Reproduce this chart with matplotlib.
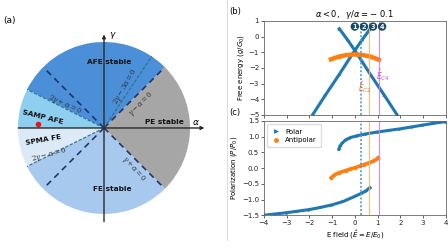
import numpy as np
import matplotlib
matplotlib.use("Agg")
import matplotlib.pyplot as plt
from matplotlib.patches import Wedge
from matplotlib.lines import Line2D

plt.rcParams['mathtext.fontset'] = 'dejavusans'
plt.rcParams['axes.unicode_minus'] = True

# ---- panel (a): phase diagram sectors (start, end angle in deg) ----
phase_names = ['PE stable', 'AFE stable', 'SAMP AFE', 'SPMA FE', 'FE stable']
phase_from = [-45.0, 45.0, 153.43, 180.0, 206.57]
phase_to = [45.0, 153.43, 180.0, 206.57, 315.0]
phase_colors = ['#a6a6a6', '#4b8fd8', '#8ecff0', '#dce9f6', '#a8c9ee']

# ---- panel (b): free energy vs field ----
Eb_rise = [-1.86, -1.3, -0.7, -0.1, 0.3, 0.68]
gb_rise = [-5.0, -3.75, -2.45, -1.1, -0.25, 0.5]
Eb_fall = [-0.68, -0.3, 0.1, 0.7, 1.3, 1.86]
gb_fall = [0.5, -0.25, -1.1, -2.45, -3.75, -5.0]
Eb_anti = [-1.05, -0.7, -0.35, 0.0, 0.35, 0.7, 1.05]
gb_anti = [-1.45, -1.28, -1.18, -1.14, -1.18, -1.28, -1.47]

# ---- panel (c): polarization vs field ----
Ec_up = [-0.7, -0.65, -0.55, -0.4, -0.2, 0.1, 0.5, 1.0, 1.5, 2.0, 2.5, 3.0, 3.5, 4.0]
Pc_up = [0.6, 0.7, 0.8, 0.9, 0.97, 1.03, 1.09, 1.15, 1.2, 1.25, 1.31, 1.37, 1.43, 1.48]
Ec_lo = [-4.0, -3.5, -3.0, -2.5, -2.0, -1.5, -1.0, -0.5, 0.0, 0.3, 0.5, 0.66]
Pc_lo = [-1.5, -1.46, -1.42, -1.37, -1.32, -1.25, -1.17, -1.06, -0.9, -0.8, -0.72, -0.62]
Ec_anti = [-1.04, -0.9, -0.7, -0.4, -0.2, 0.0, 0.2, 0.4, 0.6, 0.8, 0.95, 1.02]
Pc_anti = [-0.31, -0.22, -0.15, -0.08, -0.03, 0.01, 0.06, 0.11, 0.16, 0.22, 0.28, 0.33]

# critical fields
E_crit = [0.26, 0.64, 1.05]
crit_colors = ['#5b9bd5', '#f5b36e', '#d67de0']
crit_styles = [(0, (1, 1)), '-', '-']
circle_x = [0.0, 0.4, 0.8, 1.2]

blue = '#1f77b4'
orange = '#ff7f0e'

fig = plt.figure(figsize=(4.48, 2.52), dpi=100)

# ================= (a) =================
axa = fig.add_axes([0, 0, 0.5, 1])
axa.set_xlim(-1.209, 1.395)
axa.set_ylim(-1.442, 1.488)
axa.axis('off')

for a0, a1, c in zip(phase_from, phase_to, phase_colors):
    axa.add_patch(Wedge((0, 0), 1.0, a0, a1, fc=c, ec='none'))

navy = '#1a2d66'
teal = '#2b6f86'
for ang in [45, 135, 225, 315]:
    t = np.deg2rad(ang)
    axa.plot([0, 0.98 * np.cos(t)], [0, 0.98 * np.sin(t)], color=navy,
             lw=1.1, ls=(0, (4, 3)))
for ang in [56.31, 153.43, 206.57]:
    t = np.deg2rad(ang)
    axa.plot([0, np.cos(t)], [0, np.sin(t)], color=teal, lw=0.8,
             ls=(0, (3, 1.5)))

axa.annotate('', xy=(1.2, 0), xytext=(-1.03, 0),
             arrowprops=dict(arrowstyle='-|>', lw=1.0, color='#2a2a2a',
                             mutation_scale=5))
axa.annotate('', xy=(0, 1.12), xytext=(0, -1.12),
             arrowprops=dict(arrowstyle='-|>', lw=1.0, color='#2a2a2a',
                             mutation_scale=5))
axa.text(1.07, 0.06, r'$\alpha$', fontsize=6.5, ha='center', va='center')
axa.text(0.1, 1.07, r'$\gamma$', fontsize=6.5, ha='center', va='center')
axa.plot([-0.767], [0.047], 'o', color='#e8141c', ms=3)

bold = dict(fontsize=5.3, fontweight='bold', color='#111111',
            ha='center', va='center')
axa.text(0.06, 0.77, 'AFE stable', **bold)
axa.text(0.70, 0.07, 'PE stable', **bold)
axa.text(-0.71, 0.13, 'SAMP AFE', rotation=-14, **bold)
axa.text(-0.70, -0.14, 'SPMA FE', rotation=10, **bold)
axa.text(0.10, -0.71, 'FE stable', **bold)

mt = dict(fontsize=5, color='#333333', ha='center', va='center',
          math_fontfamily='dejavuserif')
axa.text(-0.45, 0.27, r'$2\gamma+\alpha=0$', rotation=-25, **mt)
axa.text(0.25, 0.48, r'$2\gamma-3\alpha=0$', rotation=60, **mt)
axa.text(0.43, 0.28, r'$\gamma-\alpha=0$', rotation=45, **mt)
axa.text(0.35, -0.48, r'$\gamma+\alpha=0$', rotation=-48, **mt)
axa.text(-0.64, -0.31, r'$2\gamma-\alpha=0$', rotation=15, **mt)

fig.text(0.008, 0.92, '(a)', fontsize=6.5, va='center')

# ================= (b) and (c) =================
axb = fig.add_axes([0.589, 0.544, 0.406, 0.373])
axc = fig.add_axes([0.589, 0.146, 0.406, 0.374], sharex=axb)

axb.plot(Eb_rise, gb_rise, '->', color=blue, lw=2.2, ms=2.5, mew=0)
axb.plot(Eb_fall, gb_fall, '->', color=blue, lw=2.2, ms=2.5, mew=0)
axb.plot(Eb_anti, gb_anti, '-o', color=orange, lw=3.2, ms=2.5, mew=0)

axc.plot(Ec_up, Pc_up, '->', color=blue, lw=2.2, ms=2.5, mew=0)
axc.plot(Ec_lo, Pc_lo, '->', color=blue, lw=2.2, ms=2.5, mew=0)
axc.plot(Ec_anti, Pc_anti, '-o', color=orange, lw=2.6, ms=2.5, mew=0)

for ax in (axb, axc):
    for e, c, ls in zip(E_crit, crit_colors, crit_styles):
        ax.axvline(e, color=c, lw=1.4 if ls != '-' else 0.8, ls=ls,
                   alpha=0.9)
    ax.tick_params(labelsize=5, length=2, width=0.5, pad=1.5,
                   colors='#222222')
    for s in ax.spines.values():
        s.set_linewidth(0.6)
        s.set_color('#666666')

axb.set_xlim(-4, 4)
axb.set_ylim(-5, 1)
axb.set_yticks([1, 0, -1, -2, -3, -4, -5])
axb.tick_params(labelbottom=False)
axb.set_ylabel(r'Free energy ($g/G_0$)', fontsize=5, labelpad=2)
axb.set_title(r'$\alpha<0,\ \ \gamma/\alpha=-\ 0.1$', fontsize=6, pad=3)

for i, x in enumerate(circle_x):
    axb.text(x, 0.64, str(i + 1), fontsize=4.8, fontweight='bold',
             color='white', ha='center', va='center',
             bbox=dict(boxstyle='circle,pad=0.18', fc='#17496a', ec='none'))

axb.text(0.45, -3.2, r'$\hat{E}_{C2}$', fontsize=5.5, color='#e07b39',
         ha='center', va='center')
axb.text(1.25, -2.45, r'$\hat{E}_{C4}$', fontsize=5.5, color='#d050d8',
         ha='center', va='center')

axc.set_ylim(-1.5, 1.5)
axc.set_yticks([1.5, 1.0, 0.5, 0.0, -0.5, -1.0, -1.5])
axc.set_xticks(range(-4, 5))
axc.set_ylabel(r'Polarization ($P/P_0$)', fontsize=5, labelpad=2)
axc.set_xlabel(r'E field ($\hat{E}=E/E_0$)', fontsize=5, labelpad=2)
handles = [Line2D([], [], ls='none', marker='>', color=blue, ms=3.5, mew=0),
           Line2D([], [], ls='none', marker='o', color=orange, ms=3.5, mew=0)]
axc.legend(handles, ['Polar', 'Antipolar'], loc='upper left', fontsize=5,
           frameon=True, handlelength=1.2, borderpad=0.6, labelspacing=0.35,
           framealpha=1, edgecolor='#dddddd')

fig.text(0.512, 0.955, '(b)', fontsize=6, va='center')
fig.text(0.512, 0.553, '(c)', fontsize=6, va='center')

fig.add_artist(Line2D([227 / 448, 227 / 448], [1.0, 1 - 240 / 252],
                      color='#dddddd', lw=0.8))

fig.savefig('out.png', dpi=100)
